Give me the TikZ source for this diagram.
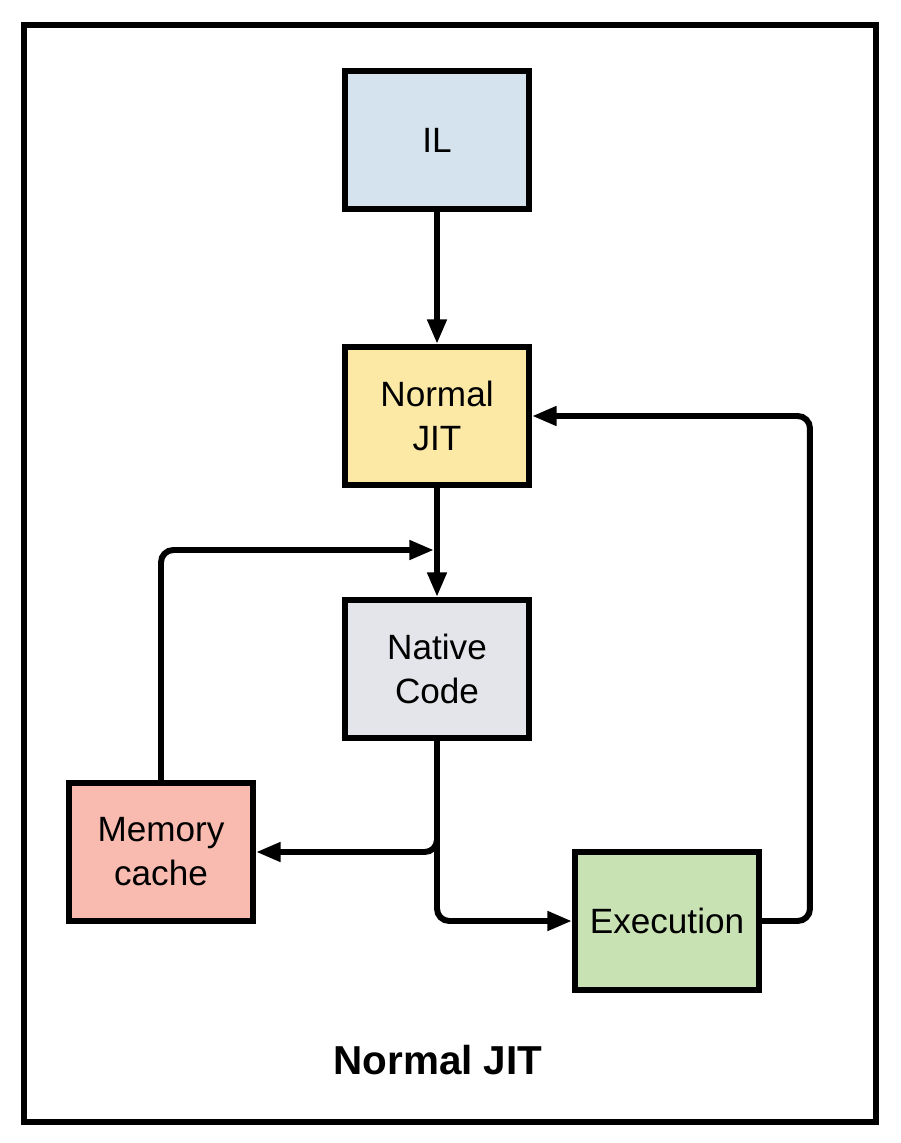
\documentclass[tikz,border=0pt]{standalone}
\usepackage{fontspec}
\setmainfont{Liberation Sans}
\usetikzlibrary{arrows.meta,calc,positioning}
\definecolor{ilblue}{RGB}{212,227,237}
\definecolor{jityellow}{RGB}{252,233,166}
\definecolor{nativegray}{RGB}{228,229,234}
\definecolor{cachesalmon}{RGB}{249,186,176}
\definecolor{execgreen}{RGB}{201,226,179}
\tikzset{
  caja/.style={
    draw=black,
    line width=3.4pt,
    align=center,
    minimum width=3.68cm,
    minimum height=2.76cm,
    inner sep=4pt,
    font=\fontsize{20}{25}\selectfont
  },
  flecha/.style={
    -{Triangle[length=14pt,width=10.5pt]},
    line width=3.4pt,
    rounded corners=7pt
  }
}

\begin{document}
\begin{tikzpicture}[x=0.02cm,y=-0.02cm]
\useasboundingbox (0,0) rectangle (900,1143);
\draw[line width=3.4pt] (24,25) rectangle (876,1122);
\node[caja,fill=ilblue] (il) at (437,140) {IL};
\node[caja,fill=jityellow] (njit) at (437,416) {Normal\\JIT};
\node[caja,fill=nativegray] (ncode) at (437,669) {Native\\Code};
\node[caja,fill=cachesalmon] (mem) at (161,852) {Memory\\cache};
\node[caja,fill=execgreen] (exec) at (667,921) {Execution};
\coordinate (merge) at (437,550);
\draw[flecha] (il) -- (njit);
\draw[flecha] (njit) -- (ncode);
\draw[flecha] (mem.north) |- ($(merge)+(-3,0)$);
\draw[flecha] (ncode.south) |- (mem.east);
\draw[flecha] (ncode.south) |- (exec.west);
\draw[flecha] (exec.east) -- ++(48,0) |- (njit.east);
\node[font=\fontsize{23}{28}\selectfont\bfseries] (titulo) at (438,1060) {Normal JIT};
\end{tikzpicture}
\end{document}
